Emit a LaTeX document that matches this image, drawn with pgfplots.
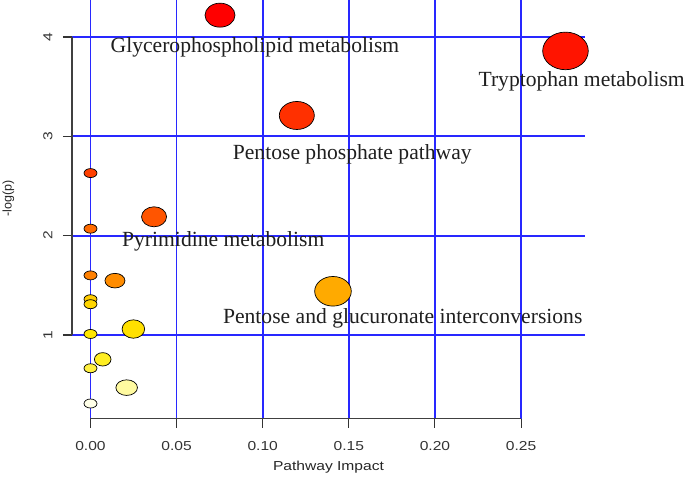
\documentclass[border=0pt]{standalone}
\usepackage{pgfplots}
\pgfplotsset{compat=1.18}
\usepackage{pgfplotstable}
\usepackage{fontspec}
\setmainfont{Liberation Serif}
\newfontfamily\axisfont{Liberation Sans}[FakeStretch=1.2]
\newfontfamily\axisfontplain{Liberation Sans}
\definecolor{gridblue}{RGB}{40,40,255}

\pgfdeclareplotmark{ell}{%
  \pgfpathellipse{\pgfpointorigin}{\pgfqpoint{\mrx pt}{0pt}}{\pgfqpoint{0pt}{\mry pt}}%
  \pgfusepathqfillstroke}

\pgfplotstableread{
x      y     rx   ry   r   g   b
0.0000 2.63  6.5  4.5  255 64  0
0.0752 4.22  15.0 12.0 255 0   0
0.2758 3.86  22.8 18.8 255 20  0
0.1198 3.21  17.5 14.0 255 48  0
0.0369 2.19  12.5 10.0 255 85  0
0.0000 2.07  6.5  4.5  255 106 0
0.0000 1.60  6.5  4.5  255 128 0
0.0142 1.547 10.0 7.3  255 140 0
0.1408 1.44  18.3 14.8 255 170 0
0.0000 1.36  6.5  4.5  255 204 0
0.0000 1.31  6.5  4.5  255 213 0
0.0249 1.06  11.3 9.2  255 224 0
0.0000 1.01  6.5  4.5  255 230 0
0.0071 0.755 8.3  6.7  255 238 34
0.0000 0.665 6.5  4.5  255 240 64
0.0210 0.47  10.8 7.8  255 250 160
0.0000 0.31  6.5  4.5  255 255 232
}\pathwaydata

\begin{document}
\begin{tikzpicture}
\useasboundingbox (-72pt,-64.3pt) rectangle (613pt,418.7pt);
\begin{axis}[
  scale only axis,
  width=512.6pt, height=418.7pt,
  xmin=-0.01074, xmax=0.2869,
  ymin=0.1571, ymax=4.3726,
  clip=false,
  axis line style={draw=none},
  xtick={0,0.05,0.10,0.15,0.20,0.25},
  xticklabels={0.00,0.05,0.10,0.15,0.20,0.25},
  ytick={1,2,3,4},
  yticklabels={1,2,3,4},
  xtick pos=bottom, ytick pos=left,
  tick align=outside,
  major tick length=9pt,
  tick style={black!80, line width=1.1pt},
  grid=major,
  major grid style={gridblue, line width=1.7pt},
  xticklabel shift=10pt,
  yticklabel shift=7pt,
  x tick label style={font=\axisfont\fontsize{13}{15}\selectfont, text=black!80},
  y tick label style={font=\axisfont\fontsize{13}{15}\selectfont, text=black!80, rotate=90, anchor=south},
  xlabel={Pathway Impact},
  ylabel={-log(p)},
  every axis x label/.style={at={(rel axis cs:0.5004,-0.1154)}, anchor=center, font=\axisfont\fontsize{13}{15}\selectfont, text=black!85},
  every axis y label/.style={at={(rel axis cs:-0.1239,0.526)}, anchor=center, rotate=90, font=\axisfontplain\fontsize{12.5}{15}\selectfont, text=black!85},
]
\draw[black!75, line width=1.1pt] (axis cs:-0.01074,1) -- (axis cs:-0.01074,4);
\draw[black!75, line width=1.1pt] (axis cs:0,0.1571) -- (axis cs:0.25,0.1571);

\addplot[
  scatter, only marks, mark=ell,
  visualization depends on={\thisrow{rx} \as \mrx},
  visualization depends on={\thisrow{ry} \as \mry},
  visualization depends on={\thisrow{r}/255 \as \colR},
  visualization depends on={\thisrow{g}/255 \as \colG},
  visualization depends on={\thisrow{b}/255 \as \colB},
  scatter/@pre marker code/.code={%
    \pgfscope
    \definecolor{mc}{rgb}{\colR,\colG,\colB}%
    \pgfsetfillcolor{mc}\pgfsetstrokecolor{black}\pgfsetlinewidth{0.7pt}%
  },
  scatter/@post marker code/.code={\endpgfscope},
] table[x=x, y=y] {\pathwaydata};

\begin{scope}[every node/.style={font=\fontsize{21.6}{24}\selectfont, text=black!88, anchor=base, inner sep=0pt}]
\node at (axis cs:0.0955,3.839) {Glycerophospholipid metabolism};
\node at (axis cs:0.2852,3.497) {Tryptophan metabolism};
\node at (axis cs:0.1520,2.768) {Pentose phosphate pathway};
\node at (axis cs:0.0771,1.888) {Pyrimidine metabolism};
\node at (axis cs:0.1813,1.118) {Pentose and glucuronate interconversions};
\end{scope}
\end{axis}
\end{tikzpicture}
\end{document}
